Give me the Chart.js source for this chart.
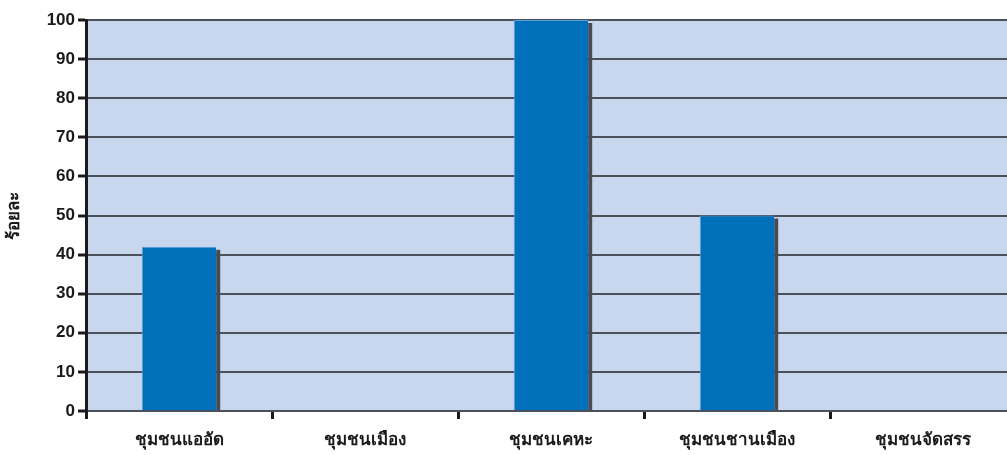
<!DOCTYPE html>
<html>
<head>
<meta charset="utf-8">
<script src="https://cdn.jsdelivr.net/npm/chart.js@4/dist/chart.umd.min.js"></script>
<style>
  html, body { margin: 0; padding: 0; background: #ffffff; overflow: hidden; }
  #wrap { position: relative; width: 1016px; height: 455px; }
</style>
</head>
<body>
<div id="wrap"><canvas id="c" width="1016" height="455"></canvas></div>
<script>
// Community types and share (percent) for each
const categories = ['ชุมชนแออัด', 'ชุมชนเมือง', 'ชุมชนเคหะ', 'ชุมชนชานเมือง', 'ชุมชนจัดสรร'];
const percentValues = [42, 0, 100, 50, 0];
const yTicks = [0, 10, 20, 30, 40, 50, 60, 70, 80, 90, 100];
const yTitle = 'ร้อยละ';

const FONT = '"Liberation Sans", Arial, "Noto Sans", sans-serif';

// Light blue panel behind the plot area
const panelBackground = {
  id: 'panelBackground',
  beforeDraw(chart) {
    const { ctx, chartArea: a } = chart;
    ctx.save();
    ctx.fillStyle = '#c8d6ee';
    ctx.fillRect(a.left, a.top, a.right - a.left, a.bottom - a.top);
    ctx.restore();
  }
};

// Dark shadow strip to the right of each bar, taken from the bar elements
const barShadow = {
  id: 'barShadow',
  beforeDatasetsDraw(chart) {
    const ctx = chart.ctx;
    const a = chart.chartArea;
    ctx.save();
    ctx.beginPath();
    ctx.rect(a.left, a.top - 2, a.right - a.left, a.bottom - a.top + 2);
    ctx.clip();
    ctx.fillStyle = '#474b56';
    chart.getDatasetMeta(0).data.forEach(bar => {
      const { x, y, base, width } = bar.getProps(['x', 'y', 'base', 'width'], true);
      if (base - y < 1) return;
      const right = x + width / 2;
      ctx.fillRect(right, y + 3, 4, base - y - 3);
    });
    ctx.restore();
  }
};

new Chart(document.getElementById('c'), {
  type: 'bar',
  data: {
    labels: categories,
    datasets: [{
      data: percentValues,
      backgroundColor: '#0070bb',
      borderColor: '#5c9fd8',
      borderWidth: { top: 1, left: 1, right: 0, bottom: 0 },
      borderSkipped: false,
      barPercentage: 0.4,
      categoryPercentage: 1.0
    }]
  },
  options: {
    responsive: false,
    animation: false,
    devicePixelRatio: 1,
    layout: { padding: { top: 20, right: 0, bottom: 0, left: 0 } },
    plugins: {
      legend: { display: false },
      tooltip: { enabled: false }
    },
    scales: {
      x: {
        offset: true,
        grid: {
          offset: true,
          drawOnChartArea: false,
          drawTicks: true,
          tickLength: 8,
          tickWidth: 3,
          tickColor: '#1a1a1a'
        },
        border: { display: true, color: '#4b505b', width: 2 },
        ticks: {
          color: '#1a1a1a',
          padding: 11,
          maxRotation: 0,
          font: { family: FONT, size: 17, weight: 'bold' }
        },
        afterFit(scale) { scale.height = 44; }
      },
      y: {
        min: 0,
        max: 100,
        afterBuildTicks(scale) { scale.ticks = yTicks.map(v => ({ value: v })); },
        grid: {
          color: '#4b505b',
          lineWidth: 2,
          tickLength: 8,
          tickWidth: 3,
          tickColor: '#1a1a1a'
        },
        border: { display: true, color: '#1a1a1a', width: 3 },
        ticks: {
          color: '#1a1a1a',
          padding: 3,
          font: { family: FONT, size: 17, weight: 'bold' }
        },
        title: {
          display: true,
          text: yTitle,
          color: '#1a1a1a',
          padding: { top: 4, bottom: 10 },
          font: { family: FONT, size: 17, weight: 'bold' }
        },
        afterFit(scale) { scale.width = 86; }
      }
    }
  },
  plugins: [panelBackground, barShadow]
});
</script>
</body>
</html>
